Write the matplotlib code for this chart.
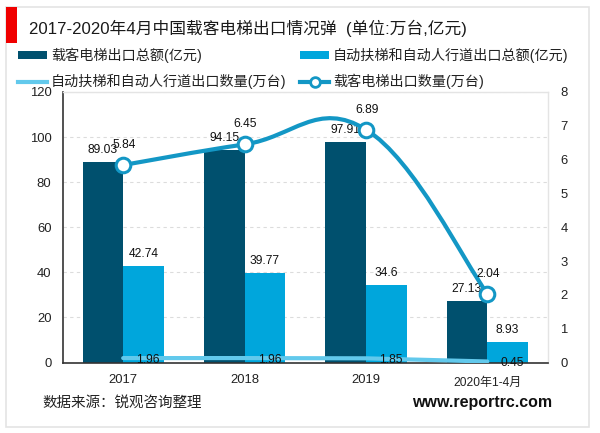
import matplotlib
matplotlib.use('Agg')
import matplotlib.pyplot as plt
from matplotlib.patches import Rectangle, PathPatch
from matplotlib.path import Path
from matplotlib.lines import Line2D
import numpy as np

plt.rcParams['font.family'] = ['Liberation Sans', 'Noto Sans CJK SC', 'DejaVu Sans']

categories = ['2017', '2018', '2019', '2020年1-4月']
elevator_value = [89.03, 94.15, 97.91, 27.13]
escalator_value = [42.74, 39.77, 34.6, 8.93]
escalator_count = [1.96, 1.96, 1.85, 0.45]
elevator_count = [5.84, 6.45, 6.89, 2.04]
series_names = ['载客电梯出口总额(亿元)', '自动扶梯和自动人行道出口总额(亿元)',
                '自动扶梯和自动人行道出口数量(万台)', '载客电梯出口数量(万台)']
title = '2017-2020年4月中国载客电梯出口情况弹  (单位:万台,亿元)'

DARK, BLUE, LIGHT, LINE = '#00506E', '#00A6DC', '#62C9EC', '#1397C5'
W, H = 600, 433
fig = plt.figure(figsize=(6, 4.33), dpi=100, facecolor='white')
px = lambda v: v * 72 / 100

# card and red accent
fig.add_artist(Rectangle((6 / W, 1 - 427 / H), 583 / W, 420 / H, transform=fig.transFigure,
                         fc='white', ec='#E4E4E4', lw=1.2, zorder=-5))
fig.add_artist(Rectangle((6 / W, 1 - 43 / H), 11 / W, 36 / H, transform=fig.transFigure,
                         fc='#F00000', ec='none', zorder=-4))
fig.text(29 / W, 1 - 28 / H, title, fontsize=px(16.7), color='#1a1a1a', va='center', ha='left')

ax = fig.add_axes([62.5 / W, 1 - 362.5 / H, 485.5 / W, 270.5 / H])
ax.patch.set_alpha(0)
ax2 = ax.twinx()
x = np.arange(4)
bw = 0.335
ax.bar(x - bw / 2, elevator_value, bw, color=DARK, zorder=2)
ax.bar(x + bw / 2, escalator_value, bw, color=BLUE, zorder=2)
ax.plot(x, escalator_count, color=LIGHT, lw=3, zorder=3, solid_capstyle='round')
ax.set_xlim(-0.5, 3.5)
ax.set_ylim(0, 120)
ax.set_yticks(range(0, 121, 20))
ax.grid(axis='y', color='#DCDCDC', ls=(0, (3, 3)), lw=0.8, zorder=0)
ax.set_axisbelow(True)
ax.set_xticks(x)
ax.set_xticklabels(categories)
ax.tick_params(length=0, labelsize=px(13), colors='#222222')
ax.tick_params(axis='x', pad=8)
ax.tick_params(axis='y', pad=8)
ax.get_xticklabels()[3].set_y(-0.014)
ax.get_xticklabels()[3].set_fontsize(px(12))
for s in ('left', 'bottom'):
    ax.spines[s].set_color('#333333'); ax.spines[s].set_linewidth(1.2)
for s in ('top', 'right'):
    ax.spines[s].set_color('#E4E4E4'); ax.spines[s].set_linewidth(1)

ax2.set_ylim(0, 8)
ax2.set_yticks(range(0, 9))
ax2.tick_params(length=0, labelsize=px(13), colors='#222222', pad=9)
for s in ax2.spines.values():
    s.set_visible(False)

# smoothed curve through the data points (spline-style control points)
pts = np.column_stack([x, elevator_count]).astype(float)
verts, codes = [tuple(pts[0])], [Path.MOVETO]
n = len(pts)
for i in range(n - 1):
    p0, p1, p2, p3 = pts[max(i - 1, 0)], pts[i], pts[i + 1], pts[min(i + 2, n - 1)]
    verts += [tuple(p1 + (p2 - p0) / 5), tuple(p2 - (p3 - p1) / 5), tuple(p2)]
    codes += [Path.CURVE4] * 3
ax2.add_patch(PathPatch(Path(verts, codes), fc='none', ec=LINE, lw=3, zorder=5))
ax2.plot(x, elevator_count, ls='none', marker='o', ms=10.5, mfc='white', mec=LINE, mew=2.2, zorder=6)

lab = dict(fontsize=px(12), color='#111111', ha='center', va='center', textcoords='offset pixels', zorder=8)
for i, v in enumerate(elevator_value):
    ax.annotate(f'{v:g}', (x[i] - bw / 2, v), xytext=(0, 12), **lab)
for i, v in enumerate(escalator_value):
    ax.annotate(f'{v:g}', (x[i] + bw / 2, v), xytext=(0, 12), **lab)
for i, v in enumerate(escalator_count):
    ax.annotate(f'{v:g}', (x[i], v), xytext=(25, -2), **lab)
for i, v in enumerate(elevator_count):
    ax2.annotate(f'{v:g}', (x[i], v), xytext=(1, 20), **lab)

handles = [Rectangle((0, 0), 1, 1, fc=DARK),
           Line2D([], [], color=LIGHT, lw=3),
           Rectangle((0, 0), 1, 1, fc=BLUE),
           Line2D([], [], color=LINE, lw=3, marker='o', ms=7, mfc='white', mec=LINE, mew=2)]
labels = [series_names[0], series_names[2], series_names[1], series_names[3]]
fig.legend(handles, labels, ncol=2, loc='upper left', bbox_to_anchor=(17 / W, 1 - 46 / H),
           frameon=False, fontsize=px(14.1), handlelength=2.0, handleheight=0.45, handletextpad=0.3,
           columnspacing=1.0, labelspacing=0.8, borderpad=0.1, borderaxespad=0, labelcolor='#222222')

fig.text(42 / W, 1 - 403 / H, '数据来源：锐观咨询整理', fontsize=px(14.5), color='#222222', va='center')
fig.text(552 / W, 1 - 403 / H, 'www.reportrc.com', fontsize=px(16), fontweight='bold',
         color='#111111', va='center', ha='right')
fig.savefig('out.png', dpi=100)
